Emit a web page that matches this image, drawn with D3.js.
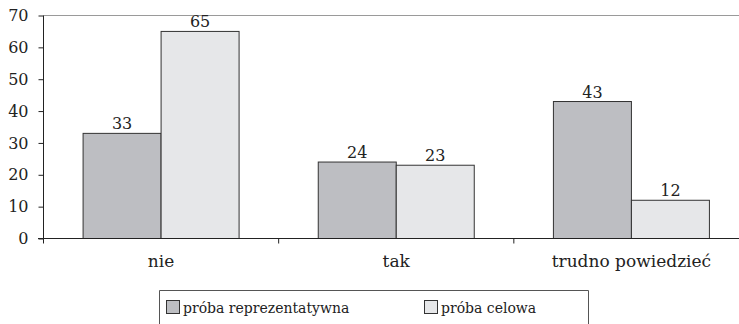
<!DOCTYPE html>
<html><head><meta charset="utf-8">
<script src="https://cdn.jsdelivr.net/npm/d3@7"></script>
<style>body{margin:0;background:#fff}svg{display:block}</style>
</head><body>
<script>
const categories = ["nie", "tak", "trudno powiedzieć"];
const seriesNames = ["próba reprezentatywna", "próba celowa"];
const reprezentatywna = [33, 24, 43];
const celowa = [65, 23, 12];
const yTicks = [0, 10, 20, 30, 40, 50, 60, 70];
const colors = ["#bdbec2", "#e6e7e9"];

const W = 739, H = 324;
const font = "'DejaVu Serif', serif";
const svg = d3.select("body").append("svg").attr("width", W).attr("height", H);

const x0 = d3.scaleBand().domain(categories).range([43.5, 749]).paddingInner(0).paddingOuter(0);
const x1 = d3.scaleBand().domain(seriesNames).range([0, 156]);
const y = d3.scaleLinear().domain([0, 70]).range([238.5, 15.5]);

// top line
svg.append("line").attr("x1", 43.5).attr("x2", W).attr("y1", y(70)).attr("y2", y(70))
  .attr("stroke", "#9a9a9a").attr("stroke-width", 1);

const series = [reprezentatywna, celowa];
categories.forEach((c, i) => {
  seriesNames.forEach((s, j) => {
    const v = series[j][i];
    const bx = x0(c) + (x0.bandwidth() - 156) / 2 + x1(s);
    svg.append("rect").attr("x", bx).attr("y", y(v)).attr("width", x1.bandwidth())
      .attr("height", y(0) - y(v)).attr("fill", colors[j]).attr("stroke", "#333").attr("stroke-width", 1);
    svg.append("text").attr("x", bx + x1.bandwidth() / 2).attr("y", y(v) - 4)
      .attr("text-anchor", "middle").attr("font-family", font).attr("font-size", 16).attr("fill", "#222").text(v);
  });
});

// y axis
const yAxis = svg.append("g").attr("transform", "translate(43.5,0)")
  .call(d3.axisLeft(y).tickValues(yTicks).tickSize(5).tickPadding(10));
yAxis.select(".domain").attr("stroke", "#222").attr("d", `M0,${y(70)}V${y(0)}`);
yAxis.selectAll(".tick line").attr("stroke", "#222");
yAxis.selectAll("text").attr("font-family", font).attr("font-size", 16).attr("fill", "#222");

// x axis
const xAxis = svg.append("g").attr("transform", `translate(0,${y(0)})`)
  .call(d3.axisBottom(x0).tickSize(0).tickPadding(16));
xAxis.select(".domain").attr("stroke", "#222").attr("d", `M38,0H${W}`);
xAxis.selectAll("text").attr("font-family", font).attr("font-size", 17).attr("fill", "#222");
const bounds = [x0.range()[0]].concat(categories.slice(1).map(c => x0(c)));
svg.selectAll(".ctick").data(bounds).enter().append("line")
  .attr("x1", d => d).attr("x2", d => d).attr("y1", y(0)).attr("y2", y(0) + 5).attr("stroke", "#222");

// legend
const lg = svg.append("g");
lg.append("path").attr("d", `M159.5,${H}V290.5H588.5V${H}`).attr("fill", "none").attr("stroke", "#555");
const lx = [166, 424];
seriesNames.forEach((s, j) => {
  lg.append("rect").attr("x", lx[j] + 0.5).attr("y", 300.5).attr("width", 13).attr("height", 13)
    .attr("fill", colors[j]).attr("stroke", "#333");
  lg.append("text").attr("x", lx[j] + 17).attr("y", 312.5).attr("font-family", font).attr("font-size", 14)
    .attr("fill", "#222").text(s);
});
</script>
</body></html>
